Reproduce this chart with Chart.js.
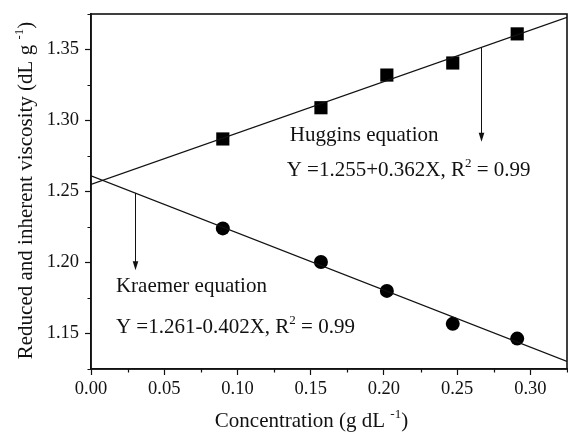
<!DOCTYPE html>
<html><head><meta charset="utf-8">
<script src="https://cdn.jsdelivr.net/npm/chart.js@4/dist/chart.umd.min.js"></script>
<style>html,body{margin:0;padding:0;background:#fff;}#wrap{width:568px;height:432px;position:relative;}</style>
</head><body><div id="wrap"><canvas id="c"></canvas></div>
<script>
// ---- data ----
const concentration = [0.090, 0.157, 0.202, 0.247, 0.291];
const hugginsReduced = [1.287, 1.309, 1.332, 1.3405, 1.361];
const kraemerInherent = [1.224, 1.2003, 1.180, 1.1568, 1.1464];
const fitX = [0, 0.325];
const hugginsFit = [1.255, 1.3727];
const kraemerFit = [1.261, 1.1304];
const xRange = [0, 0.325];
const yRange = [1.125, 1.375];
const xTicks = [0, 0.05, 0.10, 0.15, 0.20, 0.25, 0.30];
const yTicks = [1.15, 1.20, 1.25, 1.30, 1.35];
const xMinorTicks = [0.025, 0.075, 0.125, 0.175, 0.225, 0.275, 0.325];
const yMinorTicks = [1.125, 1.175, 1.225, 1.275, 1.325, 1.375];
// rich texts: [normal, superscript, normal]
const xTitleParts = ['Concentration (g dL ', '-1', ')'];
const yTitleParts = ['Reduced and inherent viscosity (dL g ', '-1', ')'];
// annotation texts anchored in data units
const labels = [
  {x: 0.1357, y: 1.2859, parts: ['Huggins equation']},
  {x: 0.1336, y: 1.2612, parts: ['Y =1.255+0.362X, R', '2', ' = 0.99']},
  {x: 0.0170, y: 1.1792, parts: ['Kraemer equation']},
  {x: 0.0170, y: 1.1507, parts: ['Y =1.261-0.402X, R', '2', ' = 0.99']}
];
const arrows = [
  {x: 0.2665, from: 1.3515, to: 1.2850},
  {x: 0.0300, from: 1.2490, to: 1.1945}
];

const FONT = "'Liberation Serif', 'Times New Roman', serif";
const INK = '#111';

const pts = (xs, ys) => xs.map((x, i) => ({x, y: ys[i]}));

function richWidth(ctx, parts, size, supSize) {
  let w = 0;
  parts.forEach((t, i) => { ctx.font = (i === 1 ? supSize : size) + 'px ' + FONT; w += ctx.measureText(t).width; });
  return w;
}
function drawRich(ctx, parts, x, y, size, supSize, rise) {
  ctx.textAlign = 'left'; ctx.textBaseline = 'alphabetic';
  parts.forEach((t, i) => {
    const sup = i === 1;
    ctx.font = (sup ? supSize : size) + 'px ' + FONT;
    ctx.fillText(t, x, sup ? y - rise : y);
    x += ctx.measureText(t).width;
  });
}

const decor = {
  id: 'decor',
  afterDraw(chart) {
    const {ctx, chartArea: a, scales: {x, y}} = chart;
    ctx.save();
    // frame
    ctx.strokeStyle = INK; ctx.lineWidth = 1.6;
    ctx.strokeRect(a.left, a.top, a.right - a.left, a.bottom - a.top);
    // minor ticks
    ctx.lineWidth = 1.2;
    ctx.beginPath();
    xMinorTicks.forEach(v => {
      const px = Math.round(x.getPixelForValue(v)) + 0.5;
      ctx.moveTo(px, a.bottom); ctx.lineTo(px, a.bottom + 3.5);
    });
    yMinorTicks.forEach(v => {
      const py = Math.round(y.getPixelForValue(v)) + 0.5;
      ctx.moveTo(a.left, py); ctx.lineTo(a.left - 3.5, py);
    });
    ctx.stroke();
    // arrows
    ctx.lineWidth = 1;
    ctx.fillStyle = INK;
    arrows.forEach(ar => {
      const px = Math.round(x.getPixelForValue(ar.x)) + 0.5;
      const y0 = y.getPixelForValue(ar.from), y1 = y.getPixelForValue(ar.to);
      ctx.beginPath(); ctx.moveTo(px, y0); ctx.lineTo(px, y1 - 8); ctx.stroke();
      ctx.beginPath(); ctx.moveTo(px - 2.8, y1 - 9); ctx.lineTo(px + 2.8, y1 - 9); ctx.lineTo(px, y1); ctx.closePath(); ctx.fill();
    });
    // annotation texts
    labels.forEach(l => drawRich(ctx, l.parts, x.getPixelForValue(l.x), y.getPixelForValue(l.y), 21, 13, 9));
    // axis titles
    const xw = richWidth(ctx, xTitleParts, 21, 13);
    drawRich(ctx, xTitleParts, 311.5 - xw / 2, chart.height - 5, 21, 13, 9);
    const yw = richWidth(ctx, yTitleParts, 21, 13);
    ctx.save();
    ctx.translate(32, (a.top + a.bottom) / 2 - 1);
    ctx.rotate(-Math.PI / 2);
    drawRich(ctx, yTitleParts, -yw / 2, 0, 21, 13, 9);
    ctx.restore();
    ctx.restore();
  }
};

const noPad = s => { s.paddingLeft = 0; s.paddingRight = 0; s.paddingTop = 0; s.paddingBottom = 0; };

new Chart(document.getElementById('c'), {
  type: 'scatter',
  data: {
    datasets: [
      {label: 'Huggins fit', type: 'line', data: pts(fitX, hugginsFit), borderColor: INK, borderWidth: 1.3, pointRadius: 0, fill: false},
      {label: 'Kraemer fit', type: 'line', data: pts(fitX, kraemerFit), borderColor: INK, borderWidth: 1.3, pointRadius: 0, fill: false},
      {label: 'Huggins', data: pts(concentration, hugginsReduced), pointStyle: 'rect', pointRadius: 9.3, backgroundColor: '#000', borderColor: '#000', borderWidth: 0},
      {label: 'Kraemer', data: pts(concentration, kraemerInherent), pointStyle: 'circle', pointRadius: 7, backgroundColor: '#000', borderColor: '#000', borderWidth: 0}
    ]
  },
  options: {
    responsive: true, maintainAspectRatio: false, animation: false,
    layout: {autoPadding: false, padding: {top: 14, right: 1, left: 0, bottom: 0}},
    plugins: {legend: {display: false}, tooltip: {enabled: false}},
    scales: {
      x: {
        type: 'linear', min: xRange[0], max: xRange[1],
        afterBuildTicks: s => { s.ticks = xTicks.map(v => ({value: v})); },
        afterFit: s => { s.height = 63; noPad(s); },
        grid: {drawOnChartArea: false, drawTicks: true, tickLength: 6, tickColor: INK, tickWidth: 1.2},
        border: {display: true, color: INK, width: 1.6},
        ticks: {padding: 3, color: INK, font: {family: FONT, size: 18.5}, maxRotation: 0, autoSkip: false,
                callback: v => Number(v).toFixed(2)},
        title: {display: false}
      },
      y: {
        type: 'linear', min: yRange[0], max: yRange[1],
        afterBuildTicks: s => { s.ticks = yTicks.map(v => ({value: v})); },
        afterFit: s => { s.width = 91; noPad(s); },
        grid: {drawOnChartArea: false, drawTicks: true, tickLength: 6, tickColor: INK, tickWidth: 1.2},
        border: {display: true, color: INK, width: 1.6},
        ticks: {padding: 6, color: INK, font: {family: FONT, size: 18.5}, autoSkip: false,
                callback: v => Number(v).toFixed(2)},
        title: {display: false}
      }
    }
  },
  plugins: [decor]
});
</script></body></html>
